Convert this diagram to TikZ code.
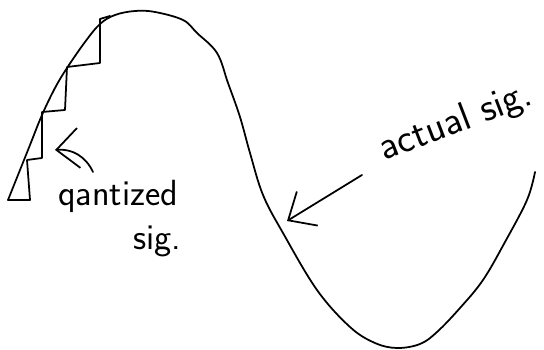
\documentclass[tikz,border=0pt]{standalone}
\usepackage{xcolor}
\usetikzlibrary{arrows.meta}

\begin{document}
\begin{tikzpicture}[
    x=0.02cm, y=-0.02cm,
    sketch/.style={draw, line width=1pt, line join=round, line cap=round},
    pointer/.style={draw, line width=1pt, line cap=round, -{Straight Barb[length=4.5mm, width=8mm]}},
    note/.style={font=\sffamily\huge, inner sep=0pt}
]
\useasboundingbox (0,0) rectangle (544,350);

% actual signal
\draw [sketch] plot [smooth, tension=0.6] coordinates {
    (8,200) (20,170) (30,145) (42,115) (55,88) (67,68) (85,42) (100,24)
    (115,15) (135,11) (155,12) (183,20) (197,33) (217,53) (228,83)
    (240,117) (250,153) (263,195) (283,233) (317,290) (350,327) (375,343)
    (397,348) (420,344) (437,332) (460,308) (483,280) (505,242) (527,200) (535,172)};

% quantized signal
\draw [sketch] (8,200) -- (30,200) -- (27,160) -- (42,158) -- (42,112) -- (65,110)
    -- (67,67) -- (100,63) -- (100,19) -- (110,16);

\node [note] (quant) at (118,196) {qantized};
\node [note] (quantsig) at (157,241) {sig.};
\node [note, rotate=21, scale=1.1] (actual) at (456,123) {actual sig.};

\coordinate (qtail) at (93,172);
\coordinate (qtip) at (55,150);
\coordinate (atail) at (362,175);
\coordinate (atip) at (287,221);

\path [pointer] (qtail) to [bend right=35] (qtip);
\path [pointer] (atail) -- (atip);

\end{tikzpicture}
\end{document}
